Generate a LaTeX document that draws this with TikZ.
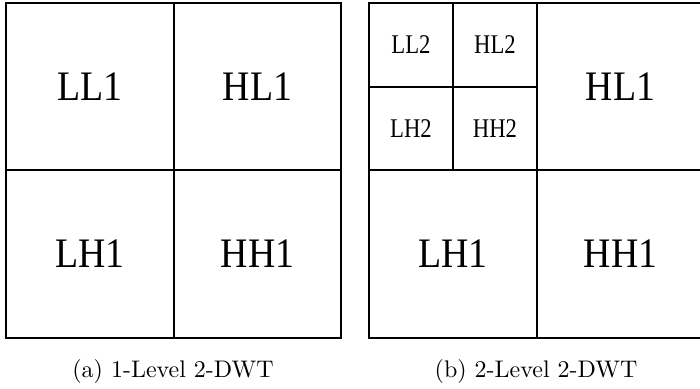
\documentclass[tikz,border=0pt]{standalone}
\usepackage{fontspec}
\newfontfamily\lblfont{Liberation Serif}
\usepackage{graphicx}
\begin{document}
\begin{tikzpicture}[x=1pt,y=-1pt,
  cell/.style={draw=black,line width=1.3pt},
  big/.style={font=\lblfont\fontsize{42}{42}\selectfont},
  small/.style={font=\lblfont\fontsize{27}{27}\selectfont},
  captext/.style={font=\normalsize}]
\useasboundingbox (0,0) rectangle (700,388);
% left
\draw[cell] (6,3) rectangle (341,338);
\draw[cell] (174,3) -- (174,338);
\draw[cell] (6,170) -- (341,170);
\node[big] (ll1) at (90,86.5) {\scalebox{0.9}[1]{LL1}};
\node[big] (hl1) at (257.5,86.5) {\scalebox{0.9}[1]{HL1}};
\node[big] (lh1) at (90,254) {\scalebox{0.9}[1]{LH1}};
\node[big] (hh1) at (257.5,254) {\scalebox{0.9}[1]{HH1}};
\node[captext] (capa) at (173,371) {\scalebox{2.4}{(a) 1-Level 2-DWT}};
% right
\draw[cell] (369,3) rectangle (704,338);
\draw[cell] (537,3) -- (537,338);
\draw[cell] (369,170) -- (704,170);
\draw[cell] (453,3) -- (453,170);
\draw[cell] (369,87) -- (537,87);
\node[small] (ll2) at (411,45) {\scalebox{0.84}[1]{LL2}};
\node[small] (hl2) at (495,45) {\scalebox{0.84}[1]{HL2}};
\node[small] (lh2) at (411,129) {\scalebox{0.84}[1]{LH2}};
\node[small] (hh2) at (495,129) {\scalebox{0.84}[1]{HH2}};
\node[big] (hl1b) at (620.5,86.5) {\scalebox{0.9}[1]{HL1}};
\node[big] (lh1b) at (453,254) {\scalebox{0.9}[1]{LH1}};
\node[big] (hh1b) at (620.5,254) {\scalebox{0.9}[1]{HH1}};
\node[captext] (capb) at (536,371) {\scalebox{2.4}{(b) 2-Level 2-DWT}};
\end{tikzpicture}
\end{document}
